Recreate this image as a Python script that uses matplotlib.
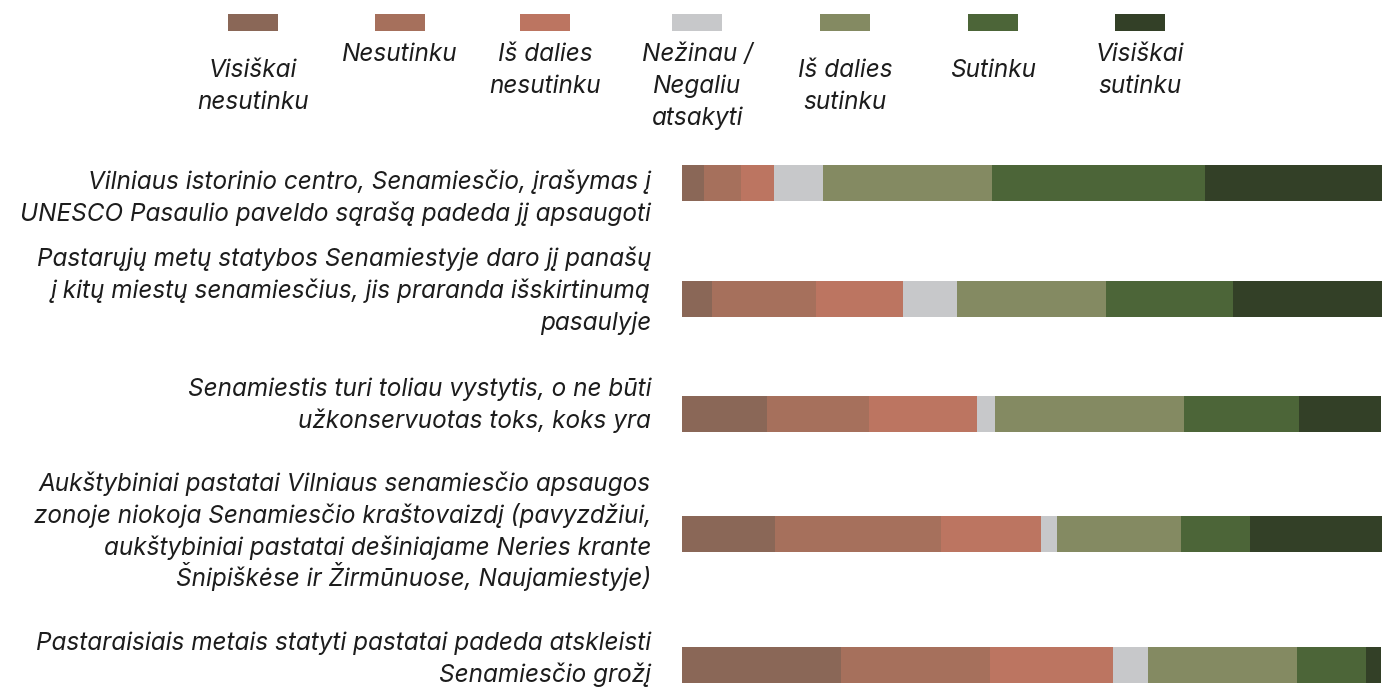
import os
import numpy as np
import matplotlib.pyplot as plt
from matplotlib import font_manager
from matplotlib.patches import Rectangle

W, H = 1382, 691

categories = [["Visiškai", "nesutinku"], ["Nesutinku"], ["Iš dalies", "nesutinku"],
              ["Nežinau /", "Negaliu", "atsakyti"], ["Iš dalies", "sutinku"], ["Sutinku"],
              ["Visiškai", "sutinku"]]
colors = ["#8a6757", "#a6705c", "#bc7561", "#c7c8ca", "#848a62", "#4c6538", "#334027"]

questions = [
    ["Vilniaus istorinio centro, Senamiesčio, įrašymas į",
     "UNESCO Pasaulio paveldo sąrašą padeda jį apsaugoti"],
    ["Pastarųjų metų statybos Senamiestyje daro jį panašų",
     "į kitų miestų senamiesčius, jis praranda išskirtinumą",
     "pasaulyje"],
    ["Senamiestis turi toliau vystytis, o ne būti",
     "užkonservuotas toks, koks yra"],
    ["Aukštybiniai pastatai Vilniaus senamiesčio apsaugos",
     "zonoje niokoja Senamiesčio kraštovaizdį (pavyzdžiui,",
     "aukštybiniai pastatai dešiniajame Neries krante",
     "Šnipiškėse ir Žirmūnuose, Naujamiestyje)"],
    ["Pastaraisiais metais statyti pastatai padeda atskleisti",
     "Senamiesčio grožį"],
]

# shares in %, one row per question, columns follow categories
values = np.array([
    [3.1, 5.4, 4.7, 6.9, 24.3, 30.4, 25.3],
    [4.3, 14.9, 12.4, 7.7, 21.3, 18.2, 21.3],
    [12.1, 14.6, 15.5, 2.5, 27.1, 16.4, 11.8],
    [13.3, 23.8, 14.2, 2.3, 17.7, 9.9, 18.9],
    [22.7, 21.3, 17.6, 5.1, 21.2, 9.9, 2.1],
])

# layout (figure pixels, measured from top)
bar_y = [183, 299, 414, 534, 665]
label_base = [189, 266, 396, 491, 650]
legend_x = [253, 400, 545, 697, 845, 993, 1140]
legend_base = [77, 61, 61, 61, 77, 77, 61]
line_step = 31.8


def pick_font():
    # static italic files only (the variable ones render condensed here)
    for want in ("Inter-Italic.otf", "Lato-Italic.ttf", "LiberationSans-Italic.ttf"):
        for f in font_manager.fontManager.ttflist:
            if os.path.basename(f.fname) == want:
                return font_manager.FontProperties(fname=f.fname)
    return font_manager.FontProperties(family="DejaVu Sans", style="italic")


fp = pick_font()
fp.set_size(17.5)
txt = dict(fontproperties=fp, color="#1c1c1c", va="baseline")

fig = plt.figure(figsize=(W / 100, H / 100), dpi=100)
ax = fig.add_axes([682 / W, 0, 1 - 682 / W, 1])
ax.set_xlim(0, values.sum(axis=1).max())
ax.set_ylim(H, 0)
ax.axis("off")

left = np.zeros(len(questions))
for j, c in enumerate(colors):
    ax.barh(bar_y, values[:, j], left=left, height=36, color=c, linewidth=0)
    left += values[:, j]

for lines, y0 in zip(questions, label_base):
    for i, line in enumerate(lines):
        fig.text(651 / W, 1 - (y0 + i * line_step) / H, line, ha="right", **txt)

for x, lines, c, y0 in zip(legend_x, categories, colors, legend_base):
    fig.patches.append(Rectangle(((x - 25) / W, 1 - 31 / H), 50 / W, 17 / H,
                                 transform=fig.transFigure, color=c, linewidth=0))
    for i, line in enumerate(lines):
        fig.text(x / W, 1 - (y0 + i * line_step) / H, line, ha="center", **txt)

fig.savefig("out.png", dpi=100)
